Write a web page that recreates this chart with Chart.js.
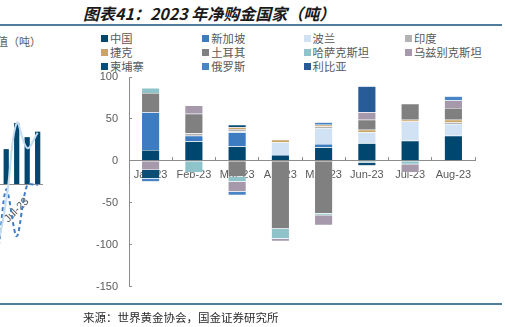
<!DOCTYPE html>
<html>
<head>
<meta charset="utf-8">
<script src="https://cdn.jsdelivr.net/npm/chart.js@4.4.1/dist/chart.umd.min.js"></script>
<style>
  html, body { margin: 0; padding: 0; background: #fff; }
  body { width: 505px; height: 327px; position: relative; overflow: hidden; font-family: "Noto Sans CJK SC", sans-serif; }
  .title { position: absolute; left: 83px; top: 1px; font-size: 16px; font-weight: bold; font-style: italic; color: #1a1a1a; white-space: nowrap; }
  .rule { position: absolute; left: 0; width: 502px; height: 2px; background: #4e7d9e; }
  .unit { position: absolute; left: -3px; top: 33px; font-size: 11px; color: #595959; white-space: nowrap; }
  #legend { position: absolute; left: 101px; top: 31px; display: grid; grid-template-columns: repeat(4, 101.3px); }
  #legend div { height: 14px; font-size: 11.3px; color: #595959; white-space: nowrap; display: flex; align-items: center; }
  #legend i { display: inline-block; width: 7px; height: 7px; margin-right: 2px; }
  .source { position: absolute; left: 83px; top: 309px; font-size: 11.5px; color: #2a2a2a; white-space: nowrap; }
  #side { position: absolute; left: -20px; top: 30px; }
  #main { position: absolute; left: 0; top: 0; }
</style>
</head>
<body>
<div class="title">图表41：2023 年净购金国家（吨）</div>
<div class="rule" style="top:24px"></div>
<div class="unit">值（吨）</div>
<div id="legend"></div>
<canvas id="side" width="70" height="270"></canvas>
<canvas id="main" width="505" height="327"></canvas>
<div class="rule" style="top:303px"></div>
<div class="source">来源：世界黄金协会，国金证券研究所</div>

<script>
// monthly net purchases, tonnes
const months = ['Jan-23', 'Feb-23', 'Mar-23', 'Apr-23', 'May-23', 'Jun-23', 'Jul-23', 'Aug-23'];
const countries = ['中国', '新加坡', '波兰', '印度', '捷克', '土耳其', '哈萨克斯坦', '乌兹别克斯坦', '柬埔寨', '俄罗斯', '利比亚'];

const china      = [13, 23, 17, 7, 16, 21, 24, 30];
const singapore  = [45, 7, 17, 0, 4, 0, 0, 0];
const poland     = [0, 0, 1, 15, 19, 13, 23, 14];
const india      = [0, 3, 3, 0, 2, 0, 0, 2];
const czech      = [0, 0, 2, 3, 2, 3, 2, 3];
const turkey     = [23, 23, -19, -81, -63, 12, 19, 14];
const kazakhstan = [6, -14, -6, -12, -2, -2, -4, 0];
const uzbekistan = [-11, 10, -12, -3, -12, 9, -10, 9];
const cambodia   = [-10, 0, 3, 0, 0, -4, 0, 0];
const russia     = [-4, 0, -4, 0, 3, 0, 0, 5];
const libya      = [0, 0, 0, 0, 0, 31, 0, 0];

const yTicks = [100, 50, 0, -50, -100, -150];

// neighbouring panel, only its right edge is on the page
const sideMonths = ['Mar-23', 'Apr-23', 'May-23', 'Jun-23', 'Jul-23', 'Aug-23'];
const sideBars   = [20, 16, 32, 56, 43, 48];
const sideTrend  = [-70, -60, -15, 56, 33, 47];
const sideDashed = [-75, -72, -5, -48, -1, -1];

const series = [china, singapore, poland, india, czech, turkey, kazakhstan, uzbekistan, cambodia, russia, libya];
const palette = ['#00476f', '#3d7cc0', '#d0e2f3', '#b3b3b3', '#c9a465', '#808080', '#8ec4c9', '#a599ab', '#0b4d75', '#4884c6', '#285c98'];

const axisGrey = '#8c8c8c';
const labelGrey = '#5a5a5a';
const tickFont = { family: 'Liberation Sans, Arial, sans-serif', size: 11 };

// legend laid out as a 4-column grid
const legendEl = document.getElementById('legend');
countries.forEach((name, i) => {
    const item = document.createElement('div');
    item.innerHTML = `<i style="background:${palette[i]}"></i>${name}`;
    legendEl.appendChild(item);
});

new Chart(document.getElementById('main'), {
    type: 'bar',
    data: {
        labels: months,
        datasets: series.map((vals, i) => ({
            label: countries[i],
            data: vals.map(v => v || null),
            backgroundColor: palette[i],
            borderColor: 'rgba(255,255,255,0.6)',
            borderWidth: 0.5,
            barPercentage: 0.42,
            categoryPercentage: 1
        }))
    },
    options: {
        responsive: false,
        animation: false,
        layout: { padding: { left: 79, right: 30, top: 77, bottom: 40.5 } },
        plugins: { legend: { display: false }, tooltip: { enabled: false } },
        scales: {
            x: {
                stacked: true,
                position: { y: 0 },
                z: 1,
                afterFit: s => { s.height = 0; },
                grid: { display: true, drawOnChartArea: false, offset: true, tickLength: -4, color: axisGrey },
                border: { color: axisGrey, width: 1 },
                ticks: { color: labelGrey, font: tickFont, padding: 12, maxRotation: 0, autoSkip: false }
            },
            y: {
                stacked: true,
                min: yTicks[yTicks.length - 1],
                max: yTicks[0],
                afterFit: s => { s.width = 50; },
                afterBuildTicks: s => { s.ticks = yTicks.map(v => ({ value: v })); },
                grid: { drawOnChartArea: false, tickLength: -3, color: axisGrey },
                border: { color: axisGrey, width: 1 },
                ticks: { color: labelGrey, font: tickFont, padding: 14 }
            }
        }
    }
});

new Chart(document.getElementById('side'), {
    type: 'bar',
    data: {
        labels: sideMonths,
        datasets: [
            { type: 'line', data: sideTrend, borderColor: '#c6dcf0', borderWidth: 2, pointRadius: 0, tension: 0.4, order: 0 },
            { type: 'line', data: sideDashed, borderColor: '#3f7cc4', borderWidth: 2, borderDash: [4, 3], pointRadius: 0, tension: 0.3, order: 0 },
            { data: sideBars, backgroundColor: '#00476f', barPercentage: 0.5, categoryPercentage: 1, order: 1 }
        ]
    },
    options: {
        responsive: false,
        animation: false,
        layout: { padding: { left: 0, right: 0, top: 45, bottom: 7 } },
        plugins: { legend: { display: false }, tooltip: { enabled: false } },
        scales: {
            x: {
                position: { y: 0 },
                afterFit: s => { s.height = 0; },
                grid: { display: false },
                border: { color: axisGrey, width: 1 },
                ticks: {
                    color: labelGrey, font: tickFont, padding: 3,
                    minRotation: 45, maxRotation: 45, autoSkip: false,
                    callback: (v, i) => sideMonths[i].startsWith('Jul') || sideMonths[i].startsWith('Jan') ? sideMonths[i] : ''
                }
            },
            y: { display: false, min: -100, max: 100 }
        }
    }
});
</script>
</body>
</html>
